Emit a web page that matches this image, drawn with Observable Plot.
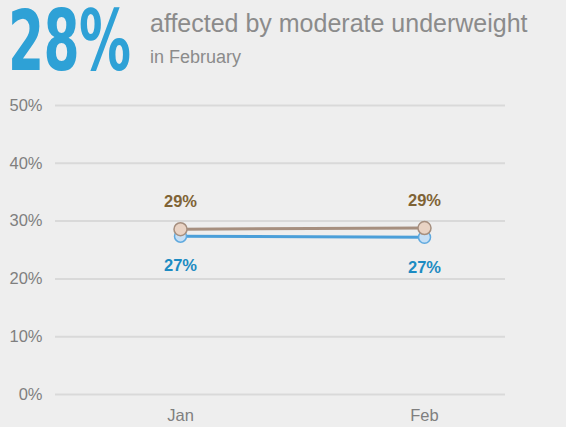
<!DOCTYPE html>
<html>
<head>
<meta charset="utf-8">
<script src="https://cdn.jsdelivr.net/npm/d3@7"></script>
<script src="https://cdn.jsdelivr.net/npm/@observablehq/plot@0.6"></script>
<style>
  html, body { margin: 0; padding: 0; background: #eeeeee; }
  body { width: 566px; height: 427px; overflow: hidden; font-family: "Liberation Sans", Arial, sans-serif; }
  #head { position: relative; height: 85px; }
  #big { position: absolute; left: 8px; top: 0px; width: 215px; height: 85px; line-height: 1; font-family: "DejaVu Sans", sans-serif; font-weight: bold; font-size: 83px; color: #2ea1d6; transform: scaleX(0.625); transform-origin: left top; letter-spacing: -1px; white-space: nowrap; }
  #sub1 { position: absolute; left: 150px; top: 11px; line-height: 1; font-size: 25px; color: #8b8b8b; white-space: nowrap; }
  #sub2 { position: absolute; left: 150px; top: 48px; line-height: 1; font-size: 18px; color: #8b8b8b; white-space: nowrap; }
</style>
</head>
<body>
<div id="head">
  <div id="big">28%</div>
  <div id="sub1">affected by moderate underweight</div>
  <div id="sub2">in February</div>
</div>
<div id="chart"></div>
<script>
const months = ["Jan", "Feb"];
const brownValues = [28.6, 28.8];
const blueValues = [27.4, 27.2];
const yTicks = [0, 10, 20, 30, 40, 50];

const brown = months.map((m, i) => ({month: m, value: brownValues[i]}));
const blue = months.map((m, i) => ({month: m, value: blueValues[i]}));
const fmt = d => Math.round(d) + "%";

const plot = Plot.plot({
  width: 566,
  height: 342,
  marginLeft: 55,
  marginRight: 61,
  marginTop: 20,
  marginBottom: 33,
  style: {background: "transparent", fontFamily: "Liberation Sans, Arial, sans-serif"},
  x: {type: "point", domain: months, range: [180, 424], padding: 0, label: null},
  y: {domain: [0, 50], label: null},
  marks: [
    Plot.ruleY(yTicks, {stroke: "#d9d9d9", strokeWidth: 2}),
    Plot.axisY(yTicks, {tickSize: 0, tickPadding: 13, tickFormat: d => d + "%", fontSize: 16.5, fill: "#7f7f7f", label: null}),
    Plot.axisX(months, {tickSize: 0, tickPadding: 15, fontSize: 16.5, fill: "#7f7f7f", label: null}),
    Plot.line(blue, {x: "month", y: "value", stroke: "#4b9fd9", strokeWidth: 3}),
    Plot.dot(blue, {x: "month", y: "value", r: 6, fill: "#c6dff5", stroke: "#5fa9de", strokeWidth: 1.5}),
    Plot.line(brown, {x: "month", y: "value", stroke: "#a68f7f", strokeWidth: 3}),
    Plot.dot(brown, {x: "month", y: "value", r: 6.5, fill: "#e9d3c4", stroke: "#a68f7f", strokeWidth: 1.5}),
    Plot.text(brown, {x: "month", y: "value", text: d => fmt(d.value), dy: -27, fill: "#7f6335", fontWeight: "bold", fontSize: 16.5}),
    Plot.text(blue, {x: "month", y: "value", text: d => fmt(d.value), dy: 30, fill: "#1c8bc2", fontWeight: "bold", fontSize: 16.5})
  ]
});
document.getElementById("chart").appendChild(plot);
</script>
</body>
</html>
